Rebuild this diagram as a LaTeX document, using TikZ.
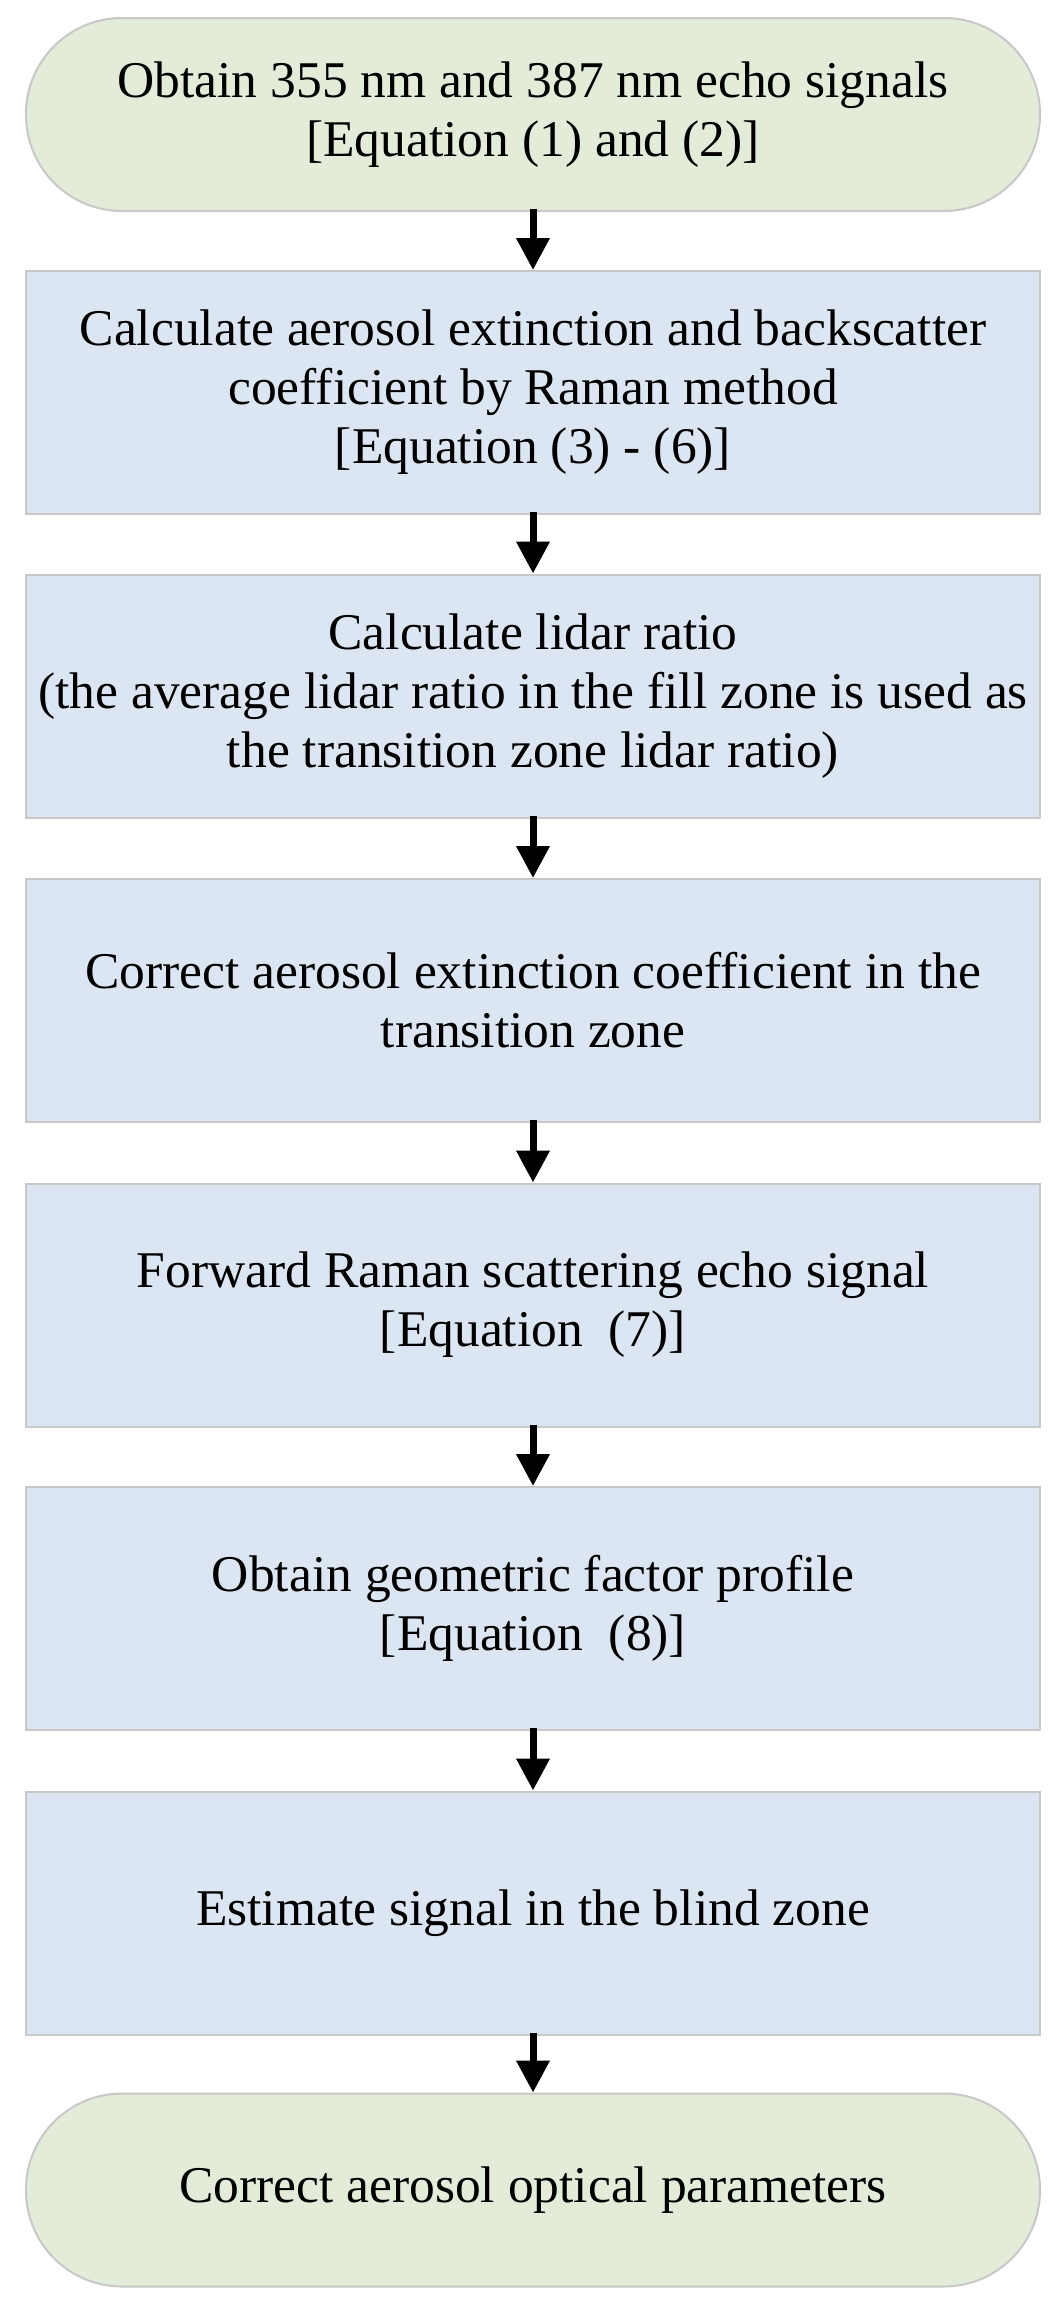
\documentclass[tikz,border=0pt]{standalone}
\usepackage{fontspec}
\setmainfont{Liberation Serif}
\usetikzlibrary{arrows.meta}
\definecolor{termgreen}{HTML}{E2ECD9}
\definecolor{stepblue}{HTML}{DCE6F2}
\definecolor{edgegray}{HTML}{C8C8C8}
\tikzset{
  basebox/.style={draw=edgegray, line width=2pt, align=center, inner sep=0pt,
    minimum width=1014pt,
    font=\fontsize{51.5}{59}\selectfont},
  termbox/.style={basebox, fill=termgreen, rounded corners=96pt, minimum height=193pt},
  stepbox/.style={basebox, fill=stepblue, minimum height=243pt},
  flowarrow/.style={line width=7pt, -{Triangle[width=32pt,length=32pt]}, shorten <=-3pt}
}
\begin{document}
\begin{tikzpicture}
\useasboundingbox (0,0) rectangle (1061pt,-2316pt);
\node[termbox] (t1) at (533pt,-114.5pt) {Obtain 355 nm and 387 nm echo signals\\\relax [Equation (1) and (2)]};
\node[stepbox] (b2) at (533pt,-392.5pt) {Calculate aerosol extinction and backscatter\\coefficient by Raman method\\\relax [Equation (3) - (6)]};
\node[stepbox] (b3) at (533pt,-696pt) {Calculate lidar ratio\\(the average lidar ratio in the fill zone is used as\\the transition zone lidar ratio)};
\node[stepbox] (b4) at (533pt,-1000.5pt) {Correct aerosol extinction coefficient in the\\transition zone};
\node[stepbox] (b5) at (533pt,-1305pt) {Forward Raman scattering echo signal\\\relax [Equation~~(7)]};
\node[stepbox] (b6) at (533pt,-1608.5pt) {Obtain geometric factor profile\\\relax [Equation~~(8)]};
\node[stepbox] (b7) at (533pt,-1913pt) {Estimate signal in the blind zone};
\node[termbox] (t2) at (533pt,-2190pt) {Correct aerosol optical parameters};
\draw[flowarrow] (t1.south) -- (b2.north);
\draw[flowarrow] (b2.south) -- (b3.north);
\draw[flowarrow] (b3.south) -- (b4.north);
\draw[flowarrow] (b4.south) -- (b5.north);
\draw[flowarrow] (b5.south) -- (b6.north);
\draw[flowarrow] (b6.south) -- (b7.north);
\draw[flowarrow] (b7.south) -- (t2.north);
\end{tikzpicture}
\end{document}
